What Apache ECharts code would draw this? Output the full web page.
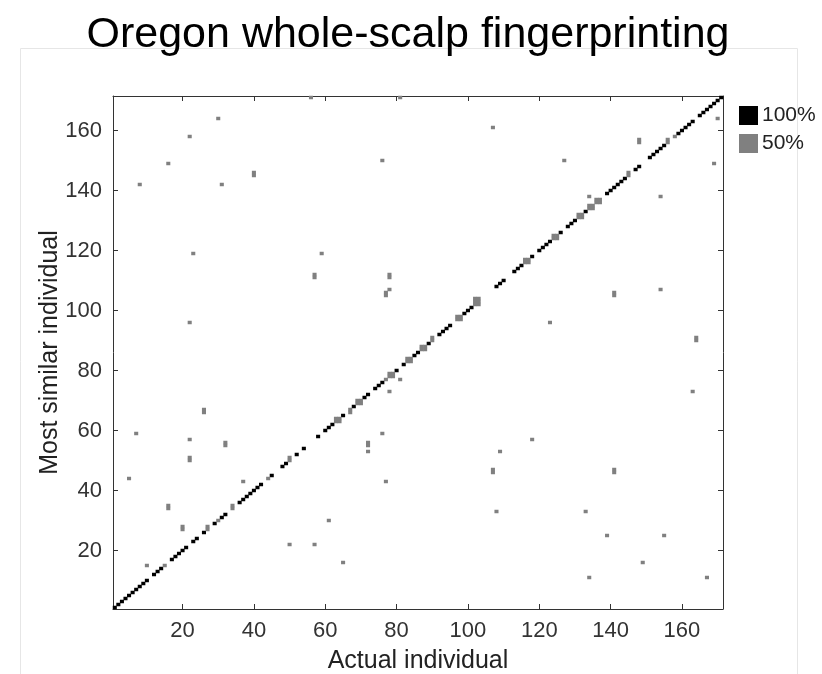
<!DOCTYPE html>
<html>
<head>
<meta charset="utf-8">
<style>
  html, body { margin: 0; padding: 0; background: #ffffff; }
  #chart { width: 822px; height: 674px; }
</style>
<script src="https://cdn.jsdelivr.net/npm/echarts@6/dist/echarts.min.js"></script>
</head>
<body>
<div id="chart"></div>
<script>
// ---- data ----
const individualCount = 171;
const individuals = Array.from({ length: individualCount }, (_, i) => String(i + 1));
const tickValues = ['20', '40', '60', '80', '100', '120', '140', '160'];

// Diagonal cells drawn at 100% (black): actual individual == most similar individual
const blackDiagonal = [1,2,3,4,5,6,7,8,9,10,12,13,14,17,18,19,20,21,23,24,26,29,31,32,
  36,37,38,39,40,41,42,45,48,49,52,54,58,60,61,62,65,68,71,72,74,75,76,80,82,85,86,89,
  92,93,94,95,99,100,101,108,109,110,113,114,115,118,120,121,122,123,126,128,129,130,133,
  139,140,141,142,143,144,147,148,151,152,153,154,155,159,160,161,162,163,
  165,166,167,168,169,170,171];

// Cells at 50% (gray): [actual individual, most similar individual]
const grayOffDiagonal = [
  [30,164],[22,158],[16,149],[8,142],[31,142],[40,145],[40,146],[23,119],
  [56,171],[81,171],[107,161],[76,150],[59,119],
  [148,156],[148,157],[127,150],[134,138],[154,138],
  [7,59],[22,57],[32,55],[32,56],[22,50],[22,51],[5,44],[37,43],[16,34],[16,35],
  [20,27],[20,28],[50,22],[10,15],
  [76,59],[72,55],[72,56],[72,53],[77,43],[61,30],[57,22],[65,16],[109,53],
  [107,46],[107,47],[108,33],
  [118,57],[141,46],[141,47],[133,33],[139,25],[155,25],[149,16],[134,11],[167,11],
  [22,96],[26,66],[26,67],
  [57,111],[57,112],[78,111],[78,112],[78,107],[77,105],[77,106],[81,77],[78,73],
  [141,105],[141,106],[154,107],[123,96],[164,90],[164,91],[163,73],
  [170,164],[169,149]
];
const grayNearDiagonal = [
  [15,15],[30,30],[44,44],[77,77],[158,158],
  [27,27],[27,28],[34,34],[34,35],[50,50],[50,51],[67,66],[67,67],
  [90,90],[90,91],[145,145],[145,146],[156,156],[156,157],
  [102,102],[102,103],[102,104],[103,102],[103,103],[103,104]
];
// pairs of individuals forming 2x2 blocks of 50% cells
const grayPairBlocks = [[63,64],[69,70],[78,79],[83,84],[87,88],[97,98],
  [116,117],[124,125],[131,132],[134,135],[136,137]];

const legendLabels = { full: '100%', half: '50%' };

// ---- build heatmap data (category indices are 0-based) ----
const cells = [];
blackDiagonal.forEach(i => cells.push([i - 1, i - 1, 100]));
grayOffDiagonal.concat(grayNearDiagonal).forEach(([x, y]) => cells.push([x - 1, y - 1, 50]));
grayPairBlocks.forEach(([a, b]) => {
  [[a, a], [a, b], [b, a], [b, b]].forEach(([x, y]) => cells.push([x - 1, y - 1, 50]));
});

const isTick = (idx) => tickValues.indexOf(individuals[idx]) !== -1;

const font = '"Liberation Sans", Arial, Helvetica, sans-serif';
const axisColor = '#333333';

function catAxis(extra) {
  return Object.assign({
    type: 'category',
    data: individuals,
    boundaryGap: true,
    nameMoveOverlap: false,
    axisLine: { show: true, onZero: false, lineStyle: { color: axisColor, width: 1 } },
    axisTick: { show: true, inside: true, length: 5, alignWithLabel: true,
      interval: (idx) => isTick(idx), lineStyle: { color: axisColor, width: 1 } },
    axisLabel: { show: true, interval: (idx) => isTick(idx), color: '#333333',
      fontSize: 22, fontFamily: font, margin: 11 },
    splitLine: { show: false },
    splitArea: { show: false }
  }, extra);
}

const chart = echarts.init(document.getElementById('chart'), null, { renderer: 'canvas' });
chart.setOption({
  animation: false,
  backgroundColor: '#ffffff',
  title: {
    text: 'Oregon whole-scalp fingerprinting',
    left: 403, textAlign: 'center', top: 9,
    textStyle: { fontFamily: font, fontWeight: 'normal', fontSize: 43, color: '#000000' }
  },
  graphic: [{
    type: 'rect', silent: true, z: -10,
    shape: { x: 20.5, y: 48.5, width: 777, height: 640 },
    style: { fill: 'none', stroke: '#e6e6e6', lineWidth: 1 }
  }],
  grid: { left: 113, top: 96, width: 610, height: 513, containLabel: false, outerBoundsMode: 'none' },
  xAxis: [
    catAxis({ position: 'bottom', name: 'Actual individual', nameLocation: 'middle', nameGap: 40,
      nameTextStyle: { fontFamily: font, fontSize: 25, color: '#222222' } }),
    catAxis({ position: 'top', axisLabel: { show: false } })
  ],
  yAxis: [
    catAxis({ position: 'left', name: 'Most similar individual', nameLocation: 'middle', nameGap: 50,
      nameTextStyle: { fontFamily: font, fontSize: 25, color: '#222222' } }),
    catAxis({ position: 'right', axisLabel: { show: false } })
  ],
  visualMap: {
    type: 'piecewise',
    orient: 'vertical',
    align: 'left',
    left: 724, top: 90,
    itemWidth: 19, itemHeight: 19, itemGap: 7, itemSymbol: 'rect',
    textGap: 4,
    selectedMode: false,
    showLabel: true,
    textStyle: { fontFamily: font, fontSize: 21, color: '#222222' },
    pieces: [
      { value: 50, label: legendLabels.half, color: '#808080' },
      { value: 100, label: legendLabels.full, color: '#000000' }
    ]
  },
  series: [{
    type: 'heatmap',
    xAxisIndex: 0, yAxisIndex: 0,
    data: cells,
    itemStyle: { borderWidth: 0 },
    emphasis: { disabled: true },
    progressive: 0
  }]
});
</script>
</body>
</html>
